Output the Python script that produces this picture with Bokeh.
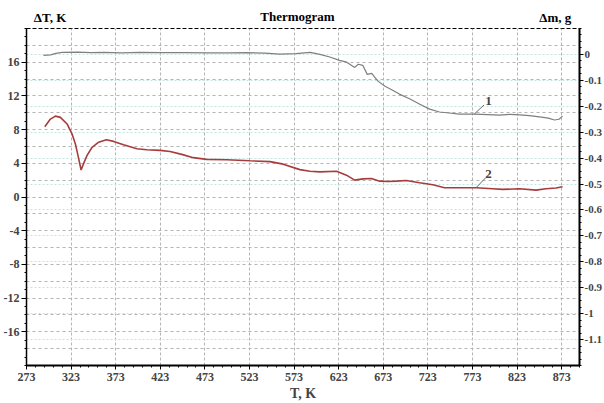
from bokeh.plotting import figure
from bokeh.models import Range1d, LinearAxis, FixedTicker, Grid, Label
from bokeh.layouts import column
from bokeh.embed import file_html
from bokeh.resources import INLINE

# ---------------- data ----------------
T_ticks = [273, 323, 373, 423, 473, 523, 573, 623, 673, 723, 773, 823, 873]
dT_ticks = [-16, -12, -8, -4, 0, 4, 8, 12, 16]
dT_tick_labels = ["-16", "-12", "-8", "-4", "0", "4", "8", "12", "16"]
dm_ticks = [0, -0.1, -0.2, -0.3, -0.4, -0.5, -0.6, -0.7, -0.8, -0.9, -1.0, -1.1]
dm_tick_labels = ["0", "-0.1", "-0.2", "-0.3", "-0.4", "-0.5", "-0.6", "-0.7",
                  "-0.8", "-0.9", "-1", "-1.1"]

# curve 1 : mass change (right axis)
T1 = [292, 300, 306, 313, 330, 345, 360, 380, 400, 425, 450, 475, 500, 520, 540,
      557, 575, 591, 602, 613, 624, 632, 641, 645, 650, 655, 660, 667, 675, 683,
      691, 703, 714, 725, 736, 747, 758, 775, 790, 803, 815, 826, 837, 848, 858,
      865, 870, 874]
dm1 = [-0.004, -0.002, 0.004, 0.008, 0.009, 0.007, 0.008, 0.006, 0.008, 0.007,
       0.007, 0.006, 0.006, 0.007, 0.005, 0.001, 0.003, 0.008, 0.0, -0.01,
       -0.023, -0.03, -0.05, -0.038, -0.042, -0.077, -0.073, -0.103, -0.123,
       -0.137, -0.153, -0.172, -0.192, -0.211, -0.222, -0.226, -0.23, -0.23,
       -0.232, -0.234, -0.231, -0.233, -0.236, -0.241, -0.246, -0.253, -0.25,
       -0.238]

# curve 2 : differential temperature (left axis)
T2 = [293.5, 299.8, 305.4, 311, 318.5, 324, 327.8, 331.5, 334.2, 337, 340.9,
      346.5, 353.9, 362.5, 370.7, 381.8, 396.8, 408, 422.9, 434, 447, 460, 475,
      497.5, 523.5, 546, 560.8, 579.5, 590.7, 601.9, 620.5, 631.7, 641, 650.3,
      659.7, 669, 678.3, 687.6, 698.8, 713.7, 728.6, 741.7, 754.8, 777.1, 795.7,
      806.9, 825.6, 844.3, 855.4, 866.6, 874]
dT2 = [8.35, 9.25, 9.6, 9.45, 8.67, 7.5, 6.3, 4.55, 3.2, 3.96, 4.94, 5.9, 6.5,
       6.8, 6.6, 6.2, 5.73, 5.6, 5.53, 5.4, 5.06, 4.67, 4.47, 4.43, 4.3, 4.2,
       3.9, 3.25, 3.06, 2.98, 3.06, 2.59, 2.0, 2.15, 2.2, 1.88, 1.84, 1.88, 1.96,
       1.69, 1.45, 1.1, 1.1, 1.1, 0.98, 0.9, 0.98, 0.82, 0.98, 1.06, 1.21]

curve_names = ["1", "2"]
title_text = "Thermogram"
left_axis_title = "ΔT, K"
right_axis_title = "Δm, g"
x_axis_title = "T, K"

FONT = "Liberation Serif"
W = 604
HEAD_H = 27

# ---------------- header strip with the texts above the plot ----------------
head = figure(width=W, height=HEAD_H, output_backend="svg", toolbar_location=None,
              x_range=Range1d(0, W), y_range=Range1d(0, HEAD_H), min_border=0,
              x_axis_location=None, y_axis_location=None)
head.grid.visible = False
head.outline_line_color = None
for txt, x, y, align in [(left_axis_title, 8, 10, "left"),
                         (right_axis_title, 595, 10, "right"),
                         (title_text, 296, 11, "center")]:
    head.add_layout(Label(x=x, y=y, text=txt, text_font=FONT,
                          text_font_style="bold", text_font_size="13px",
                          text_align=align, text_baseline="middle",
                          text_color="black"))

# ---------------- main plot ----------------
p = figure(width=W, height=403 - HEAD_H, output_backend="svg", toolbar_location=None,
           x_range=Range1d(273, 893), y_range=Range1d(-20, 20),
           min_border_left=25, min_border_right=23, min_border_top=1,
           min_border_bottom=36)
p.extra_y_ranges = {"m": Range1d(-1.2, 0.1)}
p.background_fill_color = "white"
p.border_fill_color = "white"
p.outline_line_color = "black"
p.outline_line_dash = "4 2"
p.outline_line_width = 1

# x axis
xa = p.xaxis[0]
xa.ticker = FixedTicker(ticks=T_ticks, minor_ticks=list(range(273, 894, 10)))
xa.axis_label = x_axis_title
xa.axis_label_text_font = FONT
xa.axis_label_text_font_style = "bold"
xa.axis_label_text_font_size = "14px"
xa.axis_label_standoff = 2
xa.major_label_text_font = FONT
xa.major_label_text_font_style = "bold"
xa.major_label_text_font_size = "12px"
xa.major_label_standoff = 3
xa.axis_line_width = 2
xa.major_tick_out = 4
xa.major_tick_in = 0
xa.minor_tick_out = 2
xa.minor_tick_in = 0

# left axis
ya = p.yaxis[0]
ya.ticker = FixedTicker(ticks=dT_ticks, minor_ticks=list(range(-20, 21, 1)))
ya.major_label_overrides = {t: l for t, l in zip(dT_ticks, dT_tick_labels)}
ya.major_label_text_font = FONT
ya.major_label_text_font_style = "bold"
ya.major_label_text_font_size = "12px"
ya.major_label_standoff = 2
ya.axis_line_width = 1.5
ya.major_tick_out = 5
ya.major_tick_in = 0
ya.minor_tick_out = 2
ya.minor_tick_in = 0

# right axis
ra = LinearAxis(y_range_name="m")
ra.ticker = FixedTicker(ticks=dm_ticks,
                        minor_ticks=[round(-1.2 + 0.025 * i, 3) for i in range(53)])
ra.major_label_overrides = {t: l for t, l in zip(dm_ticks, dm_tick_labels)}
ra.major_label_text_font = FONT
ra.major_label_text_font_style = "bold"
ra.major_label_text_font_size = "11px"
ra.major_label_standoff = 1
ra.axis_line_width = 2
ra.major_tick_out = 4
ra.major_tick_in = 0
ra.minor_tick_out = 2
ra.minor_tick_in = 0
p.add_layout(ra, "right")

# grids
p.xgrid.grid_line_color = "#b4b4b4"
p.xgrid.grid_line_dash = "3 2"
p.ygrid.ticker = FixedTicker(ticks=list(range(-18, 20, 2)))
p.ygrid.grid_line_color = "#b4b4b4"
p.ygrid.grid_line_dash = "3 3"
g2 = Grid(dimension=1, y_range_name="m",
          ticker=FixedTicker(ticks=[round(0.1 - 0.1 * i, 2) for i in range(1, 13)]),
          grid_line_color="#c2e4e1", grid_line_dash="2 2", grid_line_width=1)
p.add_layout(g2)

# curves
p.line(T1, dm1, y_range_name="m", line_color="#7f7f7f", line_width=1.2)
p.line(T2, dT2, line_color="#a63c3c", line_width=1.6)

# leader lines and curve numbers
p.segment(x0=[775], y0=[-0.23], x1=[786], y1=[-0.195], y_range_name="m",
          line_color="#6a6a6a", line_width=1)
p.segment(x0=[777], y0=[1.1], x1=[788], y1=[2.3],
          line_color="#6a6a6a", line_width=1)
p.add_layout(Label(x=791, y=-0.178, y_range_name="m", text=curve_names[0],
                   text_font=FONT, text_font_style="bold", text_font_size="13px",
                   text_align="center", text_baseline="middle"))
p.add_layout(Label(x=791, y=2.7, text=curve_names[1],
                   text_font=FONT, text_font_style="bold", text_font_size="13px",
                   text_align="center", text_baseline="middle"))

layout = column(head, p, spacing=0)
open("out.html", "w").write(file_html(layout, INLINE))
